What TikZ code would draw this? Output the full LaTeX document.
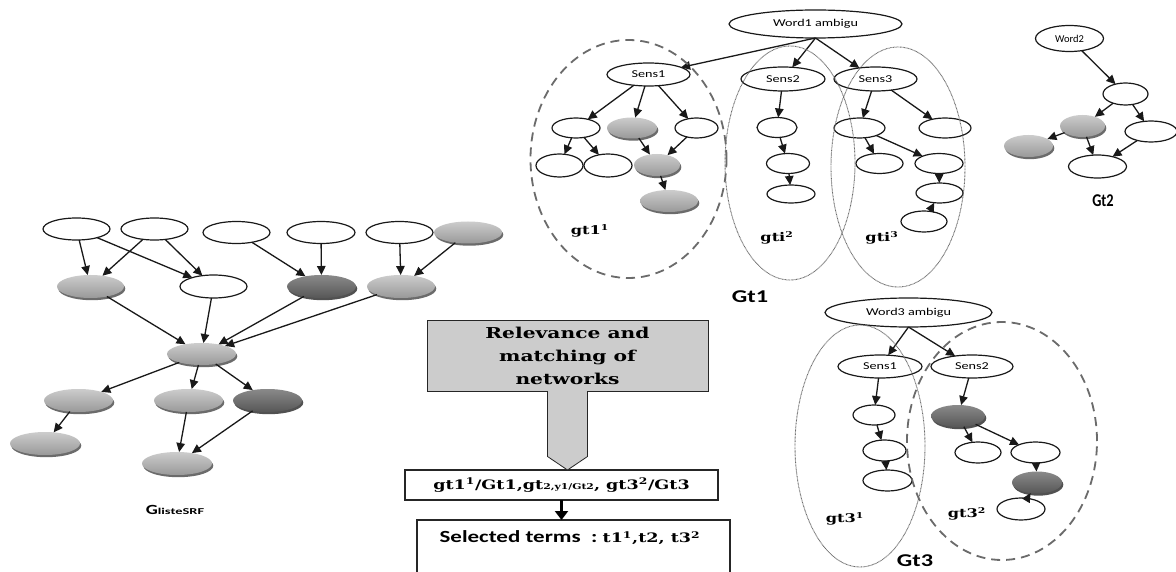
\documentclass[tikz,border=0pt]{standalone}
\usepackage{fontspec}
\setmainfont{DejaVu Serif}
\setsansfont{Carlito}
\usepackage{graphicx}
\usetikzlibrary{shapes.geometric,arrows.meta,shadows,calc}
% horizontally widened text
\newcommand{\wx}[2][1.35]{\scalebox{#1}[1]{#2}}
\definecolor{lgtop}{gray}{0.80}
\definecolor{lgbot}{gray}{0.60}
\definecolor{dgtop}{gray}{0.54}
\definecolor{dgbot}{gray}{0.34}
\definecolor{shadowgray}{gray}{0.28}
\definecolor{boxgray}{gray}{0.80}
\definecolor{grpgray}{gray}{0.42}
\begin{document}
\begin{tikzpicture}[x=1pt,y=-1pt,
  every node/.style={inner sep=0pt, outer sep=0pt},
  nd/.style={ellipse, minimum width=48pt, minimum height=21pt},
  wn/.style={nd, draw=black!90, line width=1.2pt, fill=white},
  gn/.style={nd, top color=lgtop, bottom color=lgbot,
    drop shadow={shadow xshift=1.3pt, shadow yshift=-2.2pt, fill=shadowgray, opacity=0.8}},
  dn/.style={nd, top color=dgtop, bottom color=dgbot,
    drop shadow={shadow xshift=1.3pt, shadow yshift=-2.2pt, fill=black!85, opacity=0.8}},
  ed/.style={-{Triangle[length=9pt,width=8.5pt]}, line width=1.3pt, draw=black!90},
  sensfont/.style={font=\sffamily\fontsize{10.5}{12}\selectfont},
  grpdash/.style={ellipse, draw=grpgray, line width=1.8pt, dash pattern=on 9pt off 6pt},
  grpdot/.style={ellipse, draw=grpgray, line width=0.9pt, dash pattern=on 0.8pt off 0.6pt},
  grplbl/.style={font=\bfseries\fontsize{12}{14}\selectfont},
  gtlbl/.style={font=\sffamily\bfseries\fontsize{18}{20}\selectfont},
  termbox/.style={rectangle, draw=black!85, line width=1.3pt, fill=white}
]
\clip (0,0) rectangle (1176,572);
\fill[white] (0,0) rectangle (1176,572);

% ---------------- G_listeSRF ----------------
\node[wn, minimum width=67pt, minimum height=22pt] (t1) at (76.5,229) {};
\node[wn, minimum width=67pt, minimum height=22pt] (t2) at (154.5,229) {};
\node[wn, minimum width=67pt, minimum height=22pt] (t3) at (236.5,232.5) {};
\node[wn, minimum width=68pt, minimum height=22pt] (t4) at (321,232.5) {};
\node[wn, minimum width=67pt, minimum height=22pt] (t5) at (399.5,232.5) {};
\node[gn, minimum width=68pt, minimum height=22pt] (t6) at (468,232.5) {};
\node[gn, minimum width=67pt, minimum height=23pt] (l1) at (90.5,286.5) {};
\node[wn, minimum width=67pt, minimum height=23pt] (l2) at (213.5,286.5) {};
\node[dn, minimum width=69pt, minimum height=23pt] (l3) at (321.5,286.5) {};
\node[gn, minimum width=68pt, minimum height=23pt] (l4) at (401,286.5) {};
\node[gn, minimum width=69pt, minimum height=22pt] (lc) at (201.5,354) {};
\node[gn, minimum width=69pt, minimum height=23pt] (u1) at (78.5,400.5) {};
\node[gn, minimum width=69pt, minimum height=23pt] (u2) at (188.5,400.5) {};
\node[dn, minimum width=69pt, minimum height=23pt] (u3) at (267.5,400.5) {};
\node[gn, minimum width=70pt, minimum height=23pt] (v1) at (45,443.5) {};
\node[gn, minimum width=70pt, minimum height=23pt] (v2) at (177,463.5) {};
\node[font=\sffamily\bfseries] (glist) at (175,510)
  {\wx{\fontsize{14}{16}\selectfont G}\wx[1.6]{\fontsize{9}{10}\selectfont listeSRF}};

\foreach \a/\b in {t1/l1, t1/l2, t2/l1, t2/l2, t3/l3, t4/l3, t5/l4, t6/l4,
                   l1/lc, l2/lc, l3/lc, l4/lc, lc/u1, lc/u2, lc/u3,
                   u1/v1, u2/v2, u3/v2}
  \draw[ed] (\a) -- (\b);

% ---------------- Gt1 ----------------
\node[wn, minimum width=173pt, minimum height=28pt, sensfont] (w1) at (815.5,24) {\wx{Word1 ambigu}};
\node[wn, minimum width=83pt, minimum height=23pt, sensfont] (s1) at (648.5,74.5) {\wx{Sens1}};
\node[wn, minimum width=84pt, minimum height=24pt, sensfont] (s2) at (783,79) {\wx{Sens2}};
\node[wn, minimum width=83pt, minimum height=24pt, sensfont] (s3) at (875.5,79) {\wx{Sens3}};
\node[wn, minimum width=48pt, minimum height=20pt] (a1) at (576,128) {};
\node[gn, minimum width=50pt, minimum height=21pt] (a2) at (632,128) {};
\node[wn, minimum width=43pt, minimum height=20pt] (a3) at (696.5,128) {};
\node[wn, minimum width=47pt, minimum height=23pt] (a4) at (559.5,165.5) {};
\node[wn, minimum width=48pt, minimum height=23pt] (a5) at (608,165.5) {};
\node[gn, minimum width=46pt, minimum height=22pt] (a6) at (657,165) {};
\node[gn, minimum width=58pt, minimum height=22pt] (a7) at (669,201) {};
\node[wn, minimum width=40pt, minimum height=20pt] (b1) at (777,127.5) {};
\node[wn, minimum width=43pt, minimum height=20pt] (b2) at (788,163.5) {};
\node[wn, minimum width=48pt, minimum height=18pt] (b3) at (791,194) {};
\node[wn, minimum width=51pt, minimum height=20pt] (c1) at (859.5,128) {};
\node[wn, minimum width=52pt, minimum height=20pt] (c2) at (945,128) {};
\node[wn, minimum width=47pt, minimum height=20pt] (c3) at (879.5,163.5) {};
\node[wn, minimum width=48pt, minimum height=20pt] (c4) at (939,163.5) {};
\node[wn, minimum width=47pt, minimum height=20pt] (c5) at (939.5,193) {};
\node[wn, minimum width=46pt, minimum height=21pt] (c6) at (924,221.5) {};

\foreach \b in {s1, s2, s3} \draw[ed] (w1.south) -- (\b);
\foreach \a/\b in {s1/a1, s1/a2, s1/a3, a1/a4, a1/a5, a2/a6, a3/a6, a6/a7,
                   s2/b1, b1/b2, b2/b3,
                   s3/c1, s3/c2, c1/c3, c1/c4, c4/c5, c6/c5}
  \draw[ed] (\a) -- (\b);

\node[grpdash, minimum width=196pt, minimum height=238pt] (g11) at (628.5,159) {};
\node[grpdot, minimum width=130pt, minimum height=234pt] (g12) at (790,163) {};
\node[grpdot, minimum width=134pt, minimum height=240pt] (g13) at (898,167) {};
\node[grplbl] (lg11) at (590,231) {\wx{gt1\textsuperscript{1}}};
\node[grplbl] (lg12) at (777,238) {\wx{gti\textsuperscript{2}}};
\node[grplbl] (lg13) at (882,238) {\wx{gti\textsuperscript{3}}};
\node[gtlbl] (gt1) at (750,297) {\wx{Gt1}};

% ---------------- Gt2 ----------------
\node[wn, minimum width=68pt, minimum height=26pt, font=\sffamily\fontsize{10.5}{12}\selectfont] (w2) at (1069.5,38.5) {Word2};
\node[wn, minimum width=45pt, minimum height=22pt] (m1) at (1125.5,94) {};
\node[gn, minimum width=45pt, minimum height=22pt] (m2) at (1082.5,126) {};
\node[wn, minimum width=52pt, minimum height=21pt] (m3) at (1151,131.5) {};
\node[gn, minimum width=49pt, minimum height=22pt] (m4) at (1028.5,146) {};
\node[wn, minimum width=58pt, minimum height=23pt] (m5) at (1097.5,166.5) {};
\foreach \a/\b in {w2/m1, m1/m2, m1/m3, m2/m4, m2/m5, m3/m5}
  \draw[ed] (\a) -- (\b);
\node[gtlbl] (gt2) at (1103,201) {\wx[0.8]{Gt2}};

% ---------------- Gt3 ----------------
\node[wn, minimum width=167pt, minimum height=29pt, sensfont] (w3) at (908.5,312.5) {\wx{Word3 ambigu}};
\node[wn, minimum width=84pt, minimum height=23pt, sensfont] (e1) at (880,366.5) {\wx{Sens1}};
\node[wn, minimum width=82pt, minimum height=23pt, sensfont] (e2) at (972,366.5) {\wx{Sens2}};
\node[wn, minimum width=42pt, minimum height=20pt] (f1) at (874,415) {};
\node[wn, minimum width=43pt, minimum height=21pt] (f2) at (884.5,450.5) {};
\node[wn, minimum width=49pt, minimum height=21pt] (f3) at (887.5,480.5) {};
\node[dn, minimum width=54pt, minimum height=22pt] (h1) at (958,416) {};
\node[wn, minimum width=46pt, minimum height=21pt] (h2) at (978,452.5) {};
\node[wn, minimum width=49pt, minimum height=21pt] (h3) at (1035.5,452.5) {};
\node[dn, minimum width=50pt, minimum height=22pt] (h4) at (1037,482.5) {};
\node[wn, minimum width=48pt, minimum height=22pt] (h5) at (1021,509) {};

\foreach \b in {e1, e2} \draw[ed] (w3.south) -- (\b);
\foreach \a/\b in {e1/f1, f1/f2, f2/f3, e2/h1, h1/h2, h1/h3, h3/h4, h5/h4}
  \draw[ed] (\a) -- (\b);

\node[grpdot, minimum width=130pt, minimum height=242pt] (g31) at (860,446) {};
\node[grpdash, minimum width=190pt, minimum height=238pt] (g32) at (1002,441) {};
\node[grplbl] (lg31) at (845,519) {\wx{gt3\textsuperscript{1}}};
\node[grplbl] (lg32) at (967,514) {\wx{gt3\textsuperscript{2}}};
\node[gtlbl] (gt3) at (915,561) {\wx{Gt3}};

% ---------------- matching of networks ----------------
\node[rectangle, draw=black!85, line width=0.8pt, fill=boxgray,
      minimum width=281pt, minimum height=71pt, align=center,
      font=\bfseries\fontsize{15}{23}\selectfont] (rel) at (567.5,355.5)
  {\wx{Relevance and}\\\wx{matching of}\\\wx{networks}};
\node[termbox, minimum width=313pt, minimum height=30pt,
      font=\bfseries\fontsize{13}{15}\selectfont] (pairs) at (561.5,485)
  {\wx{gt1\textsuperscript{1}/Gt1,gt{\fontsize{8}{9}\selectfont 2,y1/Gt2}, gt3\textsuperscript{2}/Gt3}};
\node[termbox, minimum width=313pt, minimum height=62pt, anchor=north] (sel) at (573.5,520) {};
\node[font=\bfseries] (seltxt) at (570,538)
  {\wx{\sffamily\fontsize{17}{19}\selectfont Selected terms\ \ :\ }\wx{\fontsize{13}{15}\selectfont t1\textsuperscript{1},t2, t3\textsuperscript{2}}};

% block arrow from the gray box down to the pairs box
\fill[boxgray] ($(rel.south)+(-19.6,-1.2)$) -- ($(rel.south)+(-19.6,65.5)$)
  -- (pairs.north -| rel.south) -- ($(rel.south)+(19.6,65.5)$) -- ($(rel.south)+(19.6,-1.2)$) -- cycle;
\draw[draw=black!85, line width=0.8pt] ($(rel.south)+(-20,0)$) -- ($(rel.south)+(-20,65.5)$)
  -- (pairs.north -| rel.south) -- ($(rel.south)+(20,65.5)$) -- ($(rel.south)+(20,0)$);
\draw[-{Triangle[length=9pt,width=13pt]}, line width=3pt] (pairs.south) -- (pairs.south |- sel.north);
\end{tikzpicture}
\end{document}
